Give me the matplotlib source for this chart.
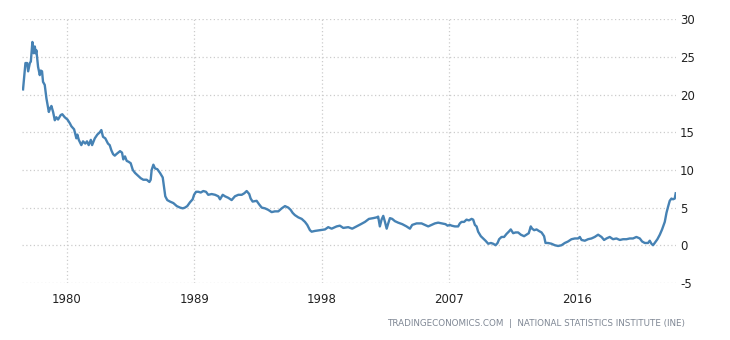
import matplotlib
matplotlib.use("Agg")
import matplotlib.pyplot as plt
import numpy as np

# Spain inflation rate (fractional year, percent)
years = [1976.93, 1977.10, 1977.22, 1977.29, 1977.41, 1977.48, 1977.59, 1977.69, 1977.76, 1977.83,
         1977.87, 1977.99, 1978.11, 1978.18, 1978.27, 1978.34, 1978.46, 1978.58, 1978.75, 1978.84,
         1978.93, 1979.05, 1979.17, 1979.28, 1979.40, 1979.59, 1979.70, 1979.87, 1980.06, 1980.23,
         1980.34, 1980.53, 1980.69, 1980.76, 1980.86, 1981.04, 1981.16, 1981.32, 1981.44, 1981.56,
         1981.71, 1981.80, 1981.99, 1982.17, 1982.34, 1982.45, 1982.57, 1982.73, 1982.92, 1983.04,
         1983.16, 1983.28, 1983.40, 1983.51, 1983.77, 1983.91, 1984.00, 1984.12, 1984.24, 1984.36,
         1984.52, 1984.67, 1984.83, 1985.06, 1985.23, 1985.41, 1985.65, 1985.84, 1985.93, 1986.00,
         1986.12, 1986.24, 1986.40, 1986.59, 1986.78, 1986.87, 1986.96, 1987.10, 1987.29, 1987.53,
         1987.77, 1988.00, 1988.19, 1988.35, 1988.51, 1988.70, 1988.89, 1988.99, 1989.13, 1989.29,
         1989.46, 1989.64, 1989.83, 1989.99, 1990.23, 1990.47, 1990.70, 1990.82, 1991.01, 1991.17,
         1991.40, 1991.64, 1991.87, 1992.11, 1992.35, 1992.53, 1992.70, 1992.88, 1992.98, 1993.12,
         1993.40, 1993.59, 1993.76, 1993.99, 1994.22, 1994.46, 1994.69, 1994.93, 1995.17, 1995.40,
         1995.63, 1995.80, 1995.94, 1996.10, 1996.34, 1996.58, 1996.81, 1996.97, 1997.16, 1997.28,
         1997.51, 1997.86, 1998.22, 1998.45, 1998.69, 1999.04, 1999.27, 1999.51, 1999.86, 2000.14,
         2000.45, 2000.75, 2001.04, 2001.32, 2001.62, 2001.86, 2001.97, 2002.09, 2002.21, 2002.33,
         2002.45, 2002.57, 2002.68, 2002.80, 2002.96, 2003.15, 2003.38, 2003.67, 2003.97, 2004.21,
         2004.37, 2004.68, 2005.03, 2005.26, 2005.50, 2005.74, 2005.97, 2006.20, 2006.48, 2006.72,
         2006.86, 2007.03, 2007.15, 2007.38, 2007.61, 2007.73, 2007.85, 2008.03, 2008.20, 2008.37,
         2008.56, 2008.67, 2008.79, 2008.91, 2009.02, 2009.21, 2009.37, 2009.54, 2009.73, 2009.92,
         2010.08, 2010.25, 2010.39, 2010.50, 2010.67, 2010.85, 2011.02, 2011.18, 2011.32, 2011.49,
         2011.66, 2011.84, 2012.03, 2012.26, 2012.43, 2012.59, 2012.73, 2012.83, 2012.97, 2013.14,
         2013.30, 2013.49, 2013.67, 2013.77, 2013.95, 2014.19, 2014.43, 2014.66, 2014.90, 2015.13,
         2015.36, 2015.60, 2015.84, 2016.07, 2016.19, 2016.31, 2016.54, 2016.77, 2017.01, 2017.24,
         2017.48, 2017.72, 2017.90, 2018.07, 2018.30, 2018.53, 2018.77, 2019.01, 2019.24, 2019.48,
         2019.71, 2019.94, 2020.18, 2020.42, 2020.58, 2020.77, 2021.00, 2021.12, 2021.24, 2021.35,
         2021.47, 2021.66, 2021.83, 2021.99, 2022.18, 2022.30, 2022.41, 2022.53, 2022.65, 2022.76,
         2022.88, 2022.95]
rate = [20.7, 24.2, 24.2, 23.1, 24.2, 24.4, 27.0, 25.5, 26.4, 25.5,
        25.9, 23.7, 22.6, 23.2, 23.1, 21.7, 21.3, 19.5, 17.7, 18.2,
        18.5, 17.7, 16.6, 17.0, 16.7, 17.3, 17.4, 17.0, 16.7, 16.2,
        15.8, 15.4, 14.2, 14.7, 14.0, 13.3, 13.8, 13.5, 13.8, 13.3,
        14.0, 13.3, 14.2, 14.7, 15.0, 15.3, 14.4, 14.2, 13.5, 13.3,
        12.6, 12.1, 11.9, 12.1, 12.5, 12.3, 11.4, 11.8, 11.2, 11.1,
        10.9, 10.0, 9.6, 9.2, 8.9, 8.7, 8.7, 8.4, 8.7, 10.0,
        10.7, 10.2, 10.1, 9.6, 9.0, 7.8, 6.5, 6.0, 5.8, 5.6,
        5.2, 5.0, 4.9, 5.0, 5.2, 5.7, 6.1, 6.7, 7.1, 7.1,
        7.0, 7.2, 7.1, 6.7, 6.8, 6.7, 6.5, 6.1, 6.7, 6.5,
        6.3, 6.0, 6.5, 6.7, 6.7, 6.9, 7.2, 6.8, 6.2, 5.8,
        5.9, 5.4, 5.0, 4.9, 4.7, 4.4, 4.5, 4.5, 4.9, 5.2,
        5.0, 4.7, 4.3, 4.0, 3.7, 3.5, 3.1, 2.7, 2.0, 1.8,
        1.9, 2.0, 2.1, 2.4, 2.2, 2.5, 2.6, 2.3, 2.4, 2.2,
        2.5, 2.8, 3.1, 3.5, 3.6, 3.7, 3.8, 2.5, 3.4, 3.9,
        3.1, 2.2, 2.9, 3.6, 3.5, 3.2, 3.0, 2.8, 2.5, 2.2,
        2.7, 2.9, 2.9, 2.7, 2.5, 2.7, 2.9, 3.0, 2.9, 2.8,
        2.6, 2.7, 2.6, 2.5, 2.5, 2.9, 3.1, 3.1, 3.4, 3.3,
        3.5, 3.4, 2.7, 2.5, 1.8, 1.2, 0.9, 0.6, 0.2, 0.3,
        0.2, 0.0, 0.3, 0.8, 1.1, 1.1, 1.5, 1.8, 2.1, 1.6,
        1.7, 1.7, 1.4, 1.2, 1.4, 1.6, 2.5, 2.2, 2.0, 2.1,
        1.9, 1.7, 1.2, 0.3, 0.3, 0.2, 0.0, -0.1, 0.0, 0.3,
        0.5, 0.8, 0.9, 0.9, 1.1, 0.7, 0.6, 0.8, 0.9, 1.1,
        1.4, 1.1, 0.7, 0.9, 1.1, 0.8, 0.9, 0.7, 0.8, 0.8,
        0.9, 0.9, 1.1, 0.9, 0.5, 0.3, 0.3, 0.6, 0.2, 0.0,
        0.3, 0.8, 1.4, 2.1, 3.1, 4.3, 5.1, 5.9, 6.2, 6.1,
        6.2, 6.9]

xticks = [1980, 1989, 1998, 2007, 2016]
yticks = [-5, 0, 5, 10, 15, 20, 25, 30]
source = "TRADINGECONOMICS.COM  |  NATIONAL STATISTICS INSTITUTE (INE)"

plt.rcParams["axes.unicode_minus"] = False

#----------------------------------------------------------------#
fig = plt.figure(figsize=(7.3, 3.4), dpi=100)
ax = fig.add_axes([0.030, 0.168, 0.896, 0.775])

ax.plot(years, rate, color="#4682b4", lw=1.7, solid_joinstyle="round")

ax.set_xlim(1976.85, 2022.97)
ax.set_ylim(-5, 30)
ax.set_xticks(xticks)
ax.set_yticks(yticks)
ax.grid(True, color="#cccccc", linestyle=(0, (1, 2)), linewidth=0.9)
ax.set_axisbelow(True)
for s in ax.spines.values():
    s.set_visible(False)
ax.yaxis.tick_right()
ax.tick_params(axis="y", length=0, pad=3, labelsize=8.5, labelcolor="#222222")
ax.tick_params(axis="x", length=0, pad=7, labelsize=8.5, labelcolor="#222222")

fig.text(0.938, 0.048, source, ha="right", va="center", fontsize=6.3, color="#7f8794")

fig.savefig("out.png", dpi=100)
